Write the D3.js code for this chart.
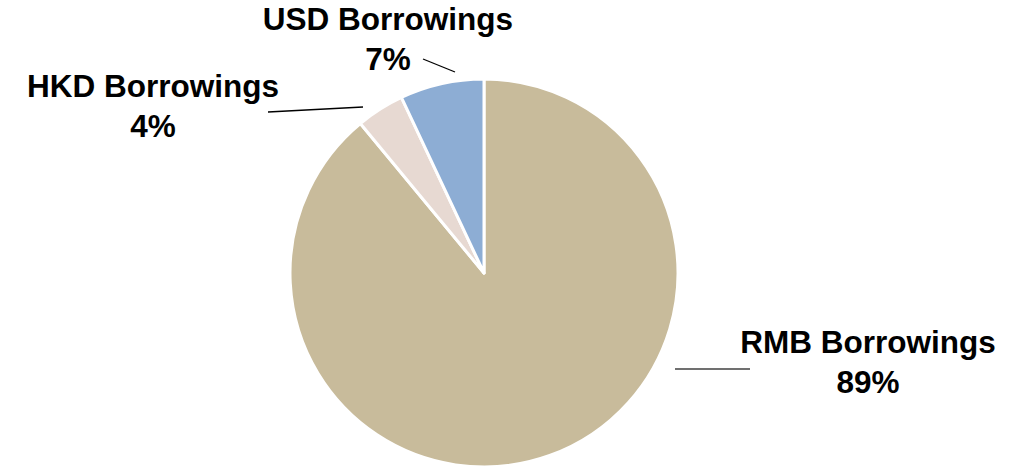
<!DOCTYPE html>
<html>
<head>
<meta charset="utf-8">
<script src="https://cdn.jsdelivr.net/npm/d3@7/dist/d3.min.js"></script>
<style>
  html, body { margin: 0; padding: 0; background: #ffffff; }
  svg { display: block; }
  text { font-family: "Liberation Sans", Arial, sans-serif; font-weight: bold; fill: #000; }
</style>
</head>
<body>
<div id="chart"></div>
<script>
// Borrowings by currency (share of total, %)
const categories = ["RMB Borrowings", "HKD Borrowings", "USD Borrowings"];
const shares = [89, 4, 7];
const colors = ["#C8BB9B", "#E7D9D2", "#8DADD4"];

const width = 1031, height = 468;
const cx = 484, cy = 273, radius = 194;

// Label placement for each slice: text anchor point and leader line ends
const labelLayout = [
  { x: 868, y: 353, line: [[675, 369], [750, 369]], lineColor: "#404040" },
  { x: 153, y: 97,  line: [[268, 112], [363, 107]], lineColor: "#000000" },
  { x: 388, y: 30,  line: [[423, 59],  [455, 72]],  lineColor: "#000000" }
];

const svg = d3.select("#chart").append("svg")
  .attr("width", width)
  .attr("height", height);

const pie = d3.pie().sort(null).value(d => d.value);
const arc = d3.arc().innerRadius(0).outerRadius(radius);

const data = categories.map((c, i) => ({ name: c, value: shares[i], color: colors[i] }));
const arcs = pie(data);

const g = svg.append("g").attr("transform", `translate(${cx},${cy})`);

g.selectAll("path.slice")
  .data(arcs)
  .join("path")
  .attr("class", "slice")
  .attr("d", arc)
  .attr("fill", d => d.data.color)
  .attr("stroke", "#ffffff")
  .attr("stroke-width", 3)
  .attr("stroke-linejoin", "round");

// Leader lines
svg.selectAll("line.leader")
  .data(arcs)
  .join("line")
  .attr("class", "leader")
  .attr("x1", (d, i) => labelLayout[i].line[0][0])
  .attr("y1", (d, i) => labelLayout[i].line[0][1])
  .attr("x2", (d, i) => labelLayout[i].line[1][0])
  .attr("y2", (d, i) => labelLayout[i].line[1][1])
  .attr("stroke", (d, i) => labelLayout[i].lineColor)
  .attr("stroke-width", 1.3);

// Two-line labels: category name and percentage
const labels = svg.selectAll("text.label")
  .data(arcs)
  .join("text")
  .attr("class", "label")
  .attr("text-anchor", "middle")
  .attr("font-size", 31.5);

labels.append("tspan")
  .attr("x", (d, i) => labelLayout[i].x)
  .attr("y", (d, i) => labelLayout[i].y)
  .text(d => d.data.name);

labels.append("tspan")
  .attr("x", (d, i) => labelLayout[i].x)
  .attr("y", (d, i) => labelLayout[i].y + 40)
  .text(d => d3.format(".0f")(d.data.value) + "%");
</script>
</body>
</html>
